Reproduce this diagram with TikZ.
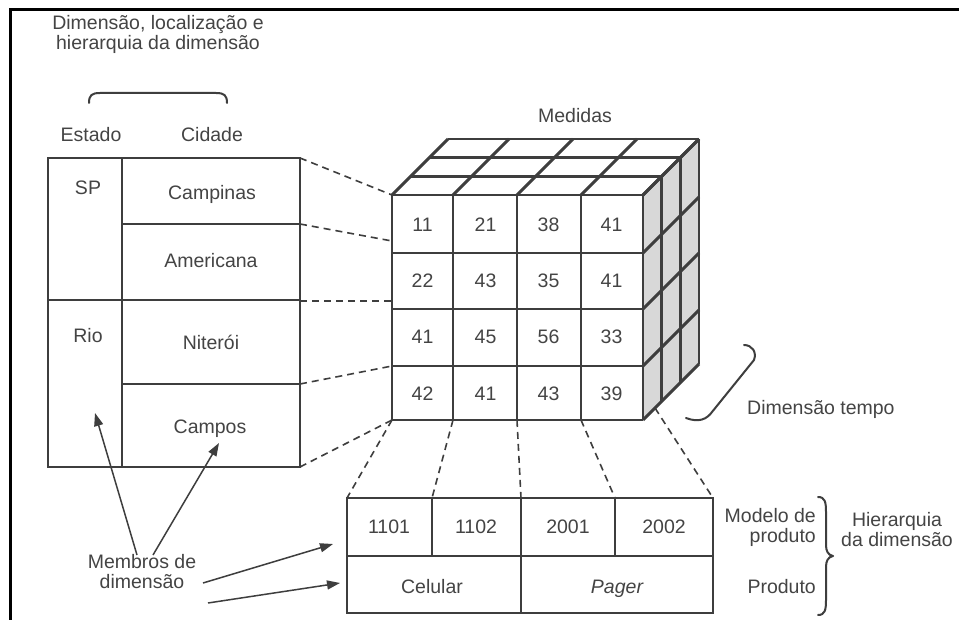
\documentclass[tikz,border=0pt]{standalone}
\usepackage{fontspec}
\setmainfont{Liberation Sans}
\usetikzlibrary{arrows.meta}
\definecolor{ink}{HTML}{3E3E3E}
\definecolor{txt}{HTML}{444444}
\definecolor{side}{HTML}{D8D8D8}
\begin{document}
\begin{tikzpicture}[x=1pt,y=-1pt,
  every node/.style={text=txt, inner sep=0pt, anchor=base,
    font=\fontsize{19.5}{20}\selectfont},
  rule/.style={draw=ink, line width=2.9pt},
  guide/.style={draw=ink, line width=1.6pt, dash pattern=on 7pt off 5pt},
  pointer/.style={draw=ink, line width=1.5pt, -{Triangle[length=13pt,width=9pt]}},
  bracket/.style={draw=ink, line width=2pt, line cap=round, line join=round}]
\useasboundingbox (0,0) rectangle (959,620);
\fill[white] (0,0) rectangle (959,620);

% page frame
\draw[black, line width=3pt, line join=miter] (10,620) -- (10,10) -- (959,10);

% ---------- location dimension ----------
\node[align=center] (title) at (158,50) {Dimensão, localização e\\hierarquia da dimensão};
\draw[bracket] (89,103) .. controls (89,95) and (92,93) .. (100,93) -- (216,93)
  .. controls (224,93) and (227,95) .. (227,103);
\node (estado) at (91,142) {Estado};
\node (cidade) at (212,142) {Cidade};

\draw[rule] (48,158) rectangle (300,467);
\draw[rule] (122,158) -- (122,467);
\draw[rule] (48,300) -- (300,300);
\draw[rule] (122,224) -- (300,224);
\draw[rule] (122,384) -- (300,384);

\node (sp) at (88,195) {SP};
\node (rio) at (88,343) {Rio};
\node (campinas) at (212,200) {Campinas};
\node (americana) at (211,268) {Americana};
\node (niteroi) at (211,350) {Niterói};
\node (campos) at (210,433) {Campos};

\coordinate (lt-0) at (300,158);
\coordinate (lt-1) at (300,224);
\coordinate (lt-2) at (300,301);
\coordinate (lt-3) at (300,384);
\coordinate (lt-4) at (300,467);

% ---------- cube of measures ----------
\node (medidas) at (575,123) {Medidas};

\fill[white] (392,195) rectangle (643,420);
\fill[white] (392,195) -- (448,139) -- (699,139) -- (643,195) -- cycle;
\fill[side] (643,195) -- (699,139) -- (699,364) -- (643,420) -- cycle;

\foreach \x in {392,453,517,581,643} {
  \draw[rule] (\x,195) -- (\x,420);
  \draw[rule] (\x,195) -- ++(56,-56);
}
\foreach \y in {195,253,309,366,420} {
  \draw[rule] (392,\y) -- (643,\y);
  \draw[rule] (643,\y) -- ++(56,-56);
}
\foreach \k in {1,2,3} {
  \draw[rule] ({392+18.67*\k},{195-18.67*\k}) -- ++(251,0);
  \draw[rule] ({643+18.67*\k},{195-18.67*\k}) -- ++(0,225);
}

\foreach \v [count=\i from 0] in {11,21,38,41,22,43,35,41,41,45,56,33,42,41,43,39} {
  \pgfmathtruncatemacro\cc{mod(\i,4)}
  \pgfmathtruncatemacro\rr{div(\i,4)}
  \node (cell-\rr-\cc) at ({422.5+63*\cc},{232+56*\rr}) {\v};
}

\coordinate (cl-0) at (392,195);
\coordinate (cl-1) at (392,241);
\coordinate (cl-2) at (392,301);
\coordinate (cl-3) at (392,366);
\coordinate (cl-4) at (392,420);
\coordinate (cb-1) at (453,420);
\coordinate (cb-2) at (517,420);
\coordinate (cb-3) at (581,420);
\coordinate (cb-4) at (655,408);

\foreach \k in {0,...,4} \draw[guide] (lt-\k) -- (cl-\k);

% time dimension
\draw[bracket] (744,345) .. controls (752,345) and (757,352) .. (754,360)
  -- (712,412) .. controls (707,419) and (699,423) .. (686,418);
\node[anchor=base west] (tempo) at (747,414) {Dimensão tempo};

% ---------- product dimension ----------
\draw[rule] (347,498) rectangle (713,613);
\draw[rule] (347,556) -- (713,556);
\draw[rule] (432,498) -- (432,556);
\draw[rule] (615,498) -- (615,556);
\draw[rule] (521,498) -- (521,613);

\node (m1101) at (389,533) {1101};
\node (m1102) at (476,533) {1102};
\node (m2001) at (568,533) {2001};
\node (m2002) at (664,533) {2002};
\node (celular) at (432,593) {Celular};
\node (pager) at (617,593) {\itshape Pager};

\coordinate (bt-0) at (347,498);
\coordinate (bt-1) at (432,498);
\coordinate (bt-2) at (521,498);
\coordinate (bt-3) at (615,498);
\coordinate (bt-4) at (713,498);
\draw[guide] (cl-4) -- (bt-0);
\foreach \k in {1,...,4} \draw[guide] (cb-\k) -- (bt-\k);

\node[anchor=base east] (modelo) at (816,522) {Modelo de};
\node[anchor=base east] (produto) at (816,542) {produto};
\node[anchor=base east] (prodlevel) at (816,593) {Produto};
\draw[bracket] (818,497) .. controls (825,497) and (826,502) .. (826,512) -- (826,545)
  .. controls (826,551) and (828,555) .. (833,556)
  .. controls (828,557) and (826,561) .. (826,567) -- (826,600)
  .. controls (826,610) and (825,615) .. (818,615);
\node[align=center] (hier) at (897,546) {Hierarquia\\da dimensão};

% ---------- dimension members ----------
\node[align=center] (membros) at (142,588) {Membros de\\dimensão};
\coordinate (ms-1) at (137,555);
\coordinate (ms-2) at (153,555);
\coordinate (ms-3) at (203,583);
\coordinate (ms-4) at (208,603);
\coordinate (mt-1) at (95,413);
\coordinate (mt-2) at (219,443);
\coordinate (mt-3) at (333,544);
\coordinate (mt-4) at (340,583);
\foreach \k in {1,...,4} \draw[pointer] (ms-\k) -- (mt-\k);
\end{tikzpicture}
\end{document}
